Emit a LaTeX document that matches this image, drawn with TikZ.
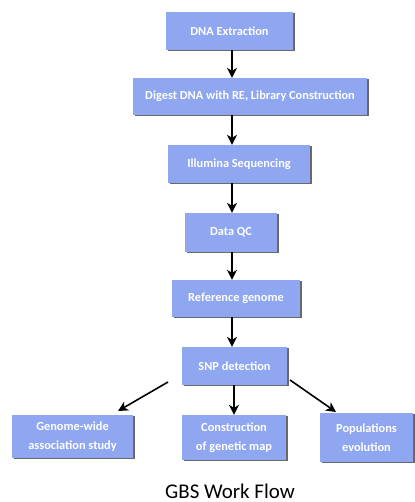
\documentclass[tikz,border=0pt]{standalone}
\usepackage{fontspec}
\setmainfont{Carlito}
\usetikzlibrary{arrows.meta,shadows,calc}
\definecolor{boxblue}{RGB}{143,166,240}
\tikzset{
  flowbox/.style={fill=boxblue, draw=none, text=white, font=\fontsize{12.4}{19}\selectfont\bfseries,
    align=center, inner sep=0pt,
    drop shadow={shadow xshift=1.6pt, shadow yshift=-1.2pt, fill=black!65, opacity=0.9}},
  flowarrow/.style={line width=1.6pt, -{Stealth[length=10pt,width=10pt,inset=3pt]}}
}
\begin{document}
\begin{tikzpicture}[x=1bp,y=-1bp]
\useasboundingbox (0,0) rectangle (414,502);
\fill[white] (0,0) rectangle (414,502);
\node[flowbox, minimum width=127bp, minimum height=38bp] (dna) at (229.5,31) {DNA Extraction};
\node[flowbox, minimum width=234bp, minimum height=37bp] (dig) at (250,96.5) {Digest DNA with RE, Library Construction};
\node[flowbox, minimum width=142bp, minimum height=38bp] (ill) at (239,164) {Illumina Sequencing};
\node[flowbox, minimum width=92bp, minimum height=39bp] (qc) at (231,232.5) {Data QC};
\node[flowbox, minimum width=128bp, minimum height=37bp] (ref) at (236,298.5) {Reference genome};
\node[flowbox, minimum width=105bp, minimum height=38bp] (snp) at (234.5,366) {SNP detection};
\node[flowbox, minimum width=121bp, minimum height=43bp] (gwas) at (72.5,436.5) {Genome-wide\\association study};
\node[flowbox, minimum width=104bp, minimum height=45bp] (map) at (234,437.5) {Construction\\of genetic map};
\node[flowbox, minimum width=93bp, minimum height=49bp] (pop) at (366.5,437.5) {Populations\\evolution};
\node[font=\fontsize{21}{24}\selectfont] (title) at (230,491) {GBS Work Flow};
\coordinate (spine) at (232,0);
\coordinate (ls) at (168,382);
\coordinate (le) at (118,411);
\coordinate (rs) at (290,380);
\coordinate (re) at (336,412);
\draw[flowarrow] (dna.south -| spine) -- (dig.north -| spine);
\draw[flowarrow] (dig.south -| spine) -- (ill.north -| spine);
\draw[flowarrow] (ill.south -| spine) -- (qc.north -| spine);
\draw[flowarrow] (qc.south -| spine) -- (ref.north -| spine);
\draw[flowarrow] (ref.south -| spine) -- (snp.north -| spine);
\draw[flowarrow] (snp.south -| map) -- (map.north);
\draw[flowarrow] (ls) -- (le);
\draw[flowarrow] (rs) -- (re);
\end{tikzpicture}
\end{document}
